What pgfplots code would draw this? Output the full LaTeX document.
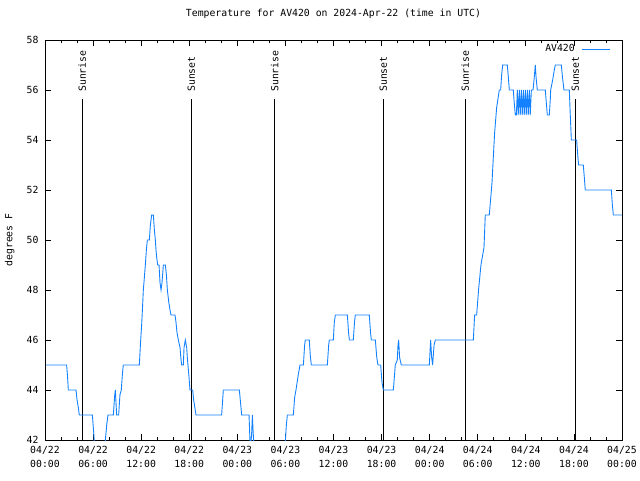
\documentclass[border=0pt]{standalone}
\usepackage{pgfplots}
\pgfplotsset{compat=1.18}
\usepackage{fontspec}
\setmainfont{DejaVu Sans Mono}
\definecolor{avblue}{RGB}{20,130,255}
\newcommand{\gfont}{\fontsize{9.8}{14}\selectfont}
\begin{document}
\begin{tikzpicture}
\path[use as bounding box] (-45pt,-40pt) rectangle (595pt,440pt);
\begin{axis}[
  at={(0pt,0pt)}, anchor=south west,
  scale only axis, width=577pt, height=400pt,
  xmin=0, xmax=72, ymin=42, ymax=58,
  xtick={0,6,...,72},
  xticklabels={04/22\\00:00,04/22\\06:00,04/22\\12:00,04/22\\18:00,04/23\\00:00,04/23\\06:00,04/23\\12:00,04/23\\18:00,04/24\\00:00,04/24\\06:00,04/24\\12:00,04/24\\18:00,04/25\\00:00},
  minor x tick num=2,
  ytick={42,44,...,58},
  tick align=inside,
  major tick length=6pt, minor tick length=3pt,
  tick style={black, line width=0.8pt},
  axis line style={black, line width=0.8pt},
  /pgf/number format/assume math mode=true,
  tick label style={font=\gfont},
  xticklabel style={align=center, anchor=north, yshift=-3pt},
  yticklabel style={anchor=east, xshift=-3pt},
  title={Temperature for AV420 on 2024-Apr-22 (time in UTC)},
  title style={at={(axis description cs:0.5,1)}, anchor=center, yshift=20pt, font=\gfont},
  ylabel={degrees F},
  every axis y label/.style={at={(axis description cs:-0.061,0.5)}, rotate=90, anchor=center, font=\gfont},
  legend style={at={(rel axis cs:1,1)}, anchor=north east, xshift=-11pt, yshift=-3pt, draw=none, fill=none, inner sep=0pt, font=\gfont, nodes={inner sep=1.5pt}},
  legend plot pos=right,
  legend cell align=right,
  legend image code/.code={\path[draw=none, fill=none] (0pt,-1pt) rectangle (34pt,1pt); \draw[avblue, line width=1pt] (6pt,0pt) -- (34pt,0pt);},
]
\draw[black, line width=0.8pt] (axis cs:4.66,42) -- (axis cs:4.66,55.63);
\draw[black, line width=0.8pt] (axis cs:18.26,42) -- (axis cs:18.26,55.63);
\draw[black, line width=0.8pt] (axis cs:28.66,42) -- (axis cs:28.66,55.63);
\draw[black, line width=0.8pt] (axis cs:42.22,42) -- (axis cs:42.22,55.63);
\draw[black, line width=0.8pt] (axis cs:52.45,42) -- (axis cs:52.45,55.63);
\draw[black, line width=0.8pt] (axis cs:66.18,42) -- (axis cs:66.18,55.63);
\node[rotate=90, anchor=west, inner sep=0pt, font=\gfont] at (axis cs:4.66,55.92) {Sunrise};
\node[rotate=90, anchor=west, inner sep=0pt, font=\gfont] at (axis cs:18.26,55.92) {Sunset};
\node[rotate=90, anchor=west, inner sep=0pt, font=\gfont] at (axis cs:28.66,55.92) {Sunrise};
\node[rotate=90, anchor=west, inner sep=0pt, font=\gfont] at (axis cs:42.22,55.92) {Sunset};
\node[rotate=90, anchor=west, inner sep=0pt, font=\gfont] at (axis cs:52.45,55.92) {Sunrise};
\node[rotate=90, anchor=west, inner sep=0pt, font=\gfont] at (axis cs:66.18,55.92) {Sunset};
\addplot[color=avblue, line width=0.9pt] table {
x y
0.15 45
2.70 45
2.80 44.6
2.91 44
3.87 44
4.00 43.6
4.16 43.3
4.28 43
5.91 43
6.10 42.2
6.30 41
7.40 41
7.53 42
7.70 42.6
7.86 43
8.53 43
8.70 43.8
8.78 44
8.86 43.5
8.94 43
9.19 43
9.35 43.8
9.52 44
9.65 44.6
9.77 45
11.77 45
11.94 46
12.06 46.6
12.17 47.3
12.27 48
12.40 48.5
12.52 49
12.65 49.6
12.77 50
13.02 50
13.15 50.6
13.31 51
13.52 51
13.65 50.4
13.77 50
13.85 49.6
13.94 49.3
14.06 49
14.23 49
14.35 48.3
14.48 48
14.60 48.3
14.77 49
15.02 49
15.15 48.6
15.27 48
15.45 47.5
15.60 47.2
15.72 47
16.22 47
16.35 46.7
16.47 46.3
16.64 46
16.85 45.7
16.95 45.3
17.05 45
17.26 45
17.35 45.7
17.51 46
17.68 45.7
17.76 45.3
17.84 45
17.95 44.6
18.09 44
18.43 44
18.55 43.6
18.70 43.3
18.84 43
22.04 43
22.15 43.5
22.25 44
24.25 44
24.40 43.5
24.54 43
25.46 43
25.62 41.6
25.78 42.2
25.88 43
25.96 42.4
26.10 41.6
26.30 41
29.90 41
30.00 42
30.12 42.6
30.24 43
30.99 43
31.15 43.7
31.32 44
31.60 44.6
31.82 45
32.24 45
32.40 45.8
32.48 46
32.98 46
33.10 45.4
33.23 45
35.23 45
35.40 45.8
35.48 46
35.98 46
36.10 46.7
36.23 47
37.73 47
37.88 46.3
37.98 46
38.47 46
38.62 46.7
38.72 47
40.47 47
40.62 46.3
40.72 46
41.22 46
41.40 45.3
41.55 45
41.89 45
42.05 44.3
42.22 44
43.47 44
43.64 44.7
43.71 45
43.96 45.2
44.05 45.8
44.13 46
44.25 45.3
44.46 45
47.96 45
48.12 46
48.25 45.3
48.37 45
48.55 45.8
48.71 46
53.45 46
53.61 47
53.86 47
54.10 48
54.40 49
54.78 49.7
54.94 51
55.44 51
55.60 51.6
55.78 52.3
55.94 53.3
56.11 54.3
56.36 55.3
56.69 56
56.86 56
56.98 56.6
57.11 57
57.69 57
57.82 56.5
57.94 56
58.44 56
58.55 55.5
58.69 55
58.82 55
58.94 56
59.05 55
59.19 56
59.30 55
59.44 56
59.55 55
59.69 56
59.80 55
59.94 56
60.05 55
60.19 56
60.30 55
60.44 56
60.55 55
60.69 56
60.90 56
61.05 56.5
61.18 57
61.28 56.5
61.43 56
62.43 56
62.58 55.4
62.68 55
62.93 55
63.05 55.6
63.10 56
63.35 56.4
63.55 56.8
63.68 57
64.43 57
64.58 56.5
64.76 56
65.43 56
65.52 55.2
65.60 54.6
65.68 54
66.34 54
66.50 53.3
66.59 53
67.17 53
67.30 52.5
67.42 52
70.67 52
70.80 51.4
70.92 51
72.00 51
};
\addlegendentry{AV420}
\end{axis}
\end{tikzpicture}
\end{document}
